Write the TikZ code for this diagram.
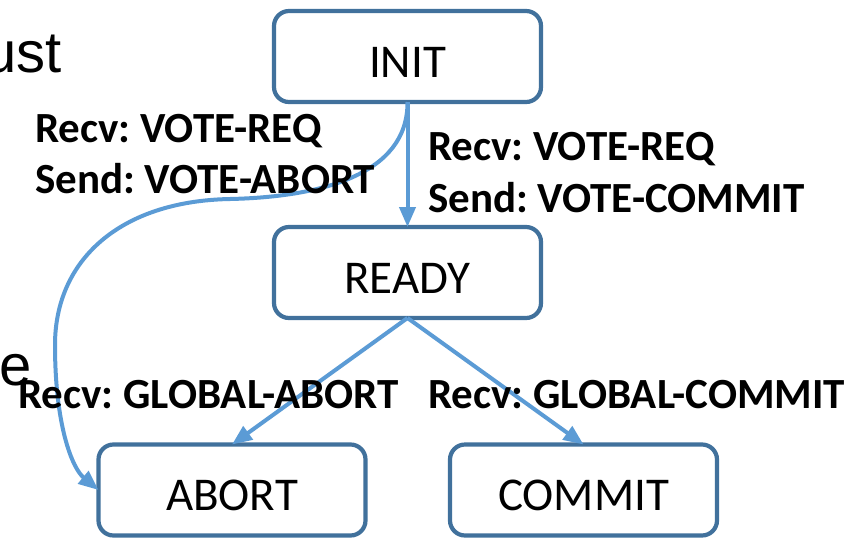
\documentclass[tikz,border=0pt]{standalone}
\usepackage{fontspec}
\setmainfont{Carlito}
\newfontfamily\arialfont{Liberation Sans}
\usetikzlibrary{arrows.meta}
\definecolor{boxedge}{HTML}{41719C}
\definecolor{flow}{HTML}{5B9BD5}
\tikzset{
  statebox/.style={draw=boxedge, line width=4.2pt, fill=white, rounded corners=15pt,
    minimum width=267pt, minimum height=91pt, inner sep=0pt, outer sep=0pt,
    font=\fontsize{47}{50}\selectfont, text height=41pt, text depth=0pt},
  flowline/.style={draw=flow, line width=4pt,
    -{Triangle[length=20pt,width=16pt]}},
  translabel/.style={anchor=base west, inner sep=0pt,
    font=\fontsize{43}{46}\selectfont\bfseries\frenchspacing},
  slidetext/.style={anchor=base east, inner sep=0pt,
    font=\arialfont\fontsize{58}{60}\selectfont}
}
\begin{document}
\begin{tikzpicture}[x=1pt, y=-1pt]
\useasboundingbox (0,0) rectangle (846,539);

% fragments of the slide text behind the diagram
\node[slidetext] (txtust) at (62,72) {ust};
\node[slidetext] (txte) at (32,385) {e};

% state boxes
\node[statebox] (init) at (407.5,56.5) {INIT};
\node[statebox] (ready) at (407.5,272.5) {READY};
\node[statebox] (abort) at (232,490) {ABORT};
\node[statebox] (commit) at (583.5,490) {COMMIT};

% transitions
\draw[flowline] (init.south) -- (ready.north);
\draw[flowline] (ready.south) -- (abort.north);
\draw[flowline] (ready.south) -- (commit.north);
\draw[flowline] (init.south) .. controls (408,175) and (320,197) .. (230,199)
  .. controls (120,201) and (55,260) .. (55,345)
  .. controls (55,425) and (72,468) .. (abort.west);

% transition labels
\node[translabel] (lblreqa) at (35,142) {Recv: VOTE-REQ};
\node[translabel] (lblabort) at (35,193) {Send: VOTE-ABORT};
\node[translabel] (lblreqc) at (428,160) {Recv: VOTE-REQ};
\node[translabel] (lblcommit) at (428,212) {Send: VOTE-COMMIT};
\node[translabel] (lblgabort) at (18,408) {Recv: GLOBAL-ABORT};
\node[translabel] (lblgcommit) at (428,408) {Recv: GLOBAL-COMMIT};
\end{tikzpicture}
\end{document}
